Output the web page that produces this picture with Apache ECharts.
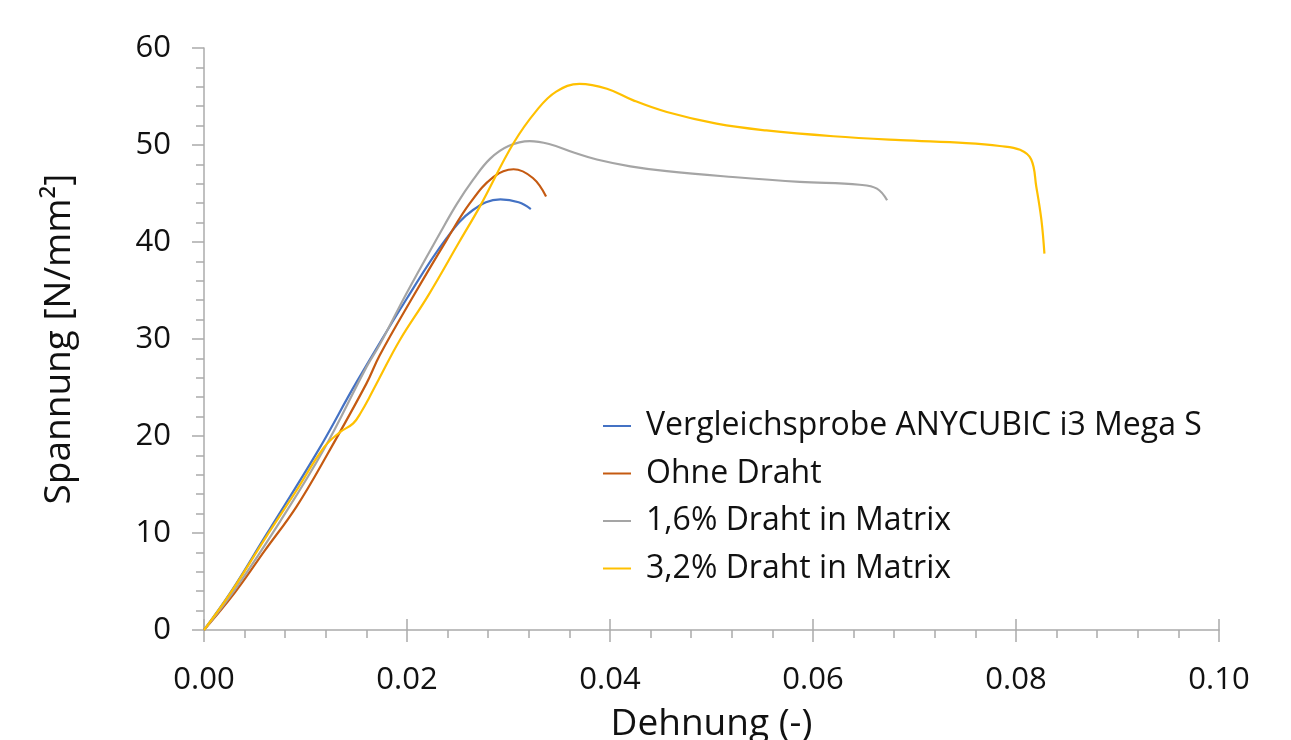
<!DOCTYPE html>
<html>
<head>
<meta charset="utf-8">
<script src="https://cdn.jsdelivr.net/npm/echarts@6/dist/echarts.min.js"></script>
<style>
html, body { margin: 0; padding: 0; background: #fff; }
#chart { width: 1291px; height: 740px; }
</style>
</head>
<body>
<div id="chart"></div>
<script>
// series names (legend)
const seriesNames = [
  'Vergleichsprobe ANYCUBIC i3 Mega S',
  'Ohne Draht',
  '1,6% Draht in Matrix',
  '3,2% Draht in Matrix'
]
// [Dehnung, Spannung]
const vergleich = [
  [0, 0], [0.0027, 4.0], [0.006, 9.6], [0.0113, 18.6], [0.015, 25.5], [0.02, 34.2],
  [0.0239, 40.4], [0.0265, 43.3], [0.0292, 44.4], [0.031, 44.1], [0.0322, 43.4]
]
const ohneDraht = [
  [0, 0], [0.003, 3.8], [0.006, 8.2], [0.0091, 12.7], [0.0122, 18.2], [0.016, 25.4],
  [0.0173, 28.3], [0.0205, 34.2], [0.0239, 40.2], [0.0262, 44.0], [0.0285, 46.7],
  [0.0305, 47.5], [0.0324, 46.6], [0.0337, 44.7]
]
const draht16 = [
  [0, 0], [0.0032, 4.4], [0.0075, 11.2], [0.0118, 18.6], [0.016, 27.1], [0.0173, 29.4],
  [0.02, 34.8], [0.0233, 41.0], [0.0249, 43.9], [0.0265, 46.4], [0.0282, 48.6],
  [0.03, 49.9], [0.0321, 50.4], [0.034, 50.1], [0.0365, 49.2], [0.0387, 48.5], [0.042, 47.8],
  [0.0456, 47.3], [0.0521, 46.7], [0.0587, 46.2], [0.0646, 45.9], [0.0663, 45.5], [0.0673, 44.3]
]
const draht32 = [
  [0, 0], [0.0026, 3.8], [0.006, 9.4], [0.009, 14.2], [0.0118, 18.8], [0.0134, 20.4],
  [0.0147, 21.3], [0.0155, 22.5], [0.0163, 24.0], [0.0172, 25.8], [0.0193, 29.9],
  [0.0221, 34.5], [0.0252, 40.1], [0.0272, 43.7], [0.0305, 50.2], [0.0328, 53.6],
  [0.0347, 55.5], [0.037, 56.3], [0.0397, 55.8], [0.0423, 54.6], [0.0456, 53.4],
  [0.0505, 52.2], [0.0554, 51.5], [0.062, 50.9], [0.0686, 50.5], [0.0751, 50.2],
  [0.0784, 49.9], [0.0804, 49.5], [0.0815, 48.5], [0.082, 45.7], [0.0825, 42.3], [0.0828, 38.8]
]
const seriesData = [vergleich, ohneDraht, draht16, draht32]
const colors = ['#4472C4', '#C55A11', '#A5A5A5', '#FFC000']

const font = '"Open Sans", "DejaVu Sans", sans-serif'
const axisGray = '#ABABAB'
const textColor = '#111'

const chart = echarts.init(document.getElementById('chart'))
chart.setOption({
  animation: false,
  color: colors,
  textStyle: { fontFamily: font },
  grid: { left: 204, right: 72, top: 48, bottom: 110, outerBoundsMode: 'none', containLabel: false },
  legend: {
    orient: 'vertical',
    left: 598,
    top: 402,
    icon: 'rect',
    itemWidth: 28,
    itemHeight: 2,
    itemGap: 9.5,
    textStyle: { fontSize: 32, color: textColor, padding: [0, 0, 0, 10], lineHeight: 38, fontFamily: font },
    data: seriesNames
  },
  xAxis: [
    {
      type: 'value',
      min: 0,
      max: 0.1,
      interval: 0.02,
      name: 'Dehnung (-)',
      nameLocation: 'middle',
      nameGap: 76,
      nameTextStyle: { fontSize: 37, color: textColor, fontFamily: font },
      axisLine: { lineStyle: { color: axisGray, width: 1.5 } },
      axisTick: { show: true, length: 12, lineStyle: { color: axisGray, width: 1.5 } },
      minorTick: { show: true, splitNumber: 5, length: 8, lineStyle: { color: axisGray, width: 1.5 } },
      axisLabel: { fontSize: 31, color: textColor, margin: 35, formatter: v => v.toFixed(2), fontFamily: font },
      splitLine: { show: false }
    },
    {
      type: 'value',
      min: 0,
      max: 0.1,
      interval: 0.02,
      position: 'bottom',
      axisLine: { show: false },
      axisTick: { show: true, inside: true, length: 11, lineStyle: { color: axisGray, width: 1.5 } },
      axisLabel: { show: false },
      splitLine: { show: false }
    }
  ],
  yAxis: {
    type: 'value',
    min: 0,
    max: 60,
    interval: 10,
    name: 'Spannung [N/mm²]',
    nameLocation: 'middle',
    nameGap: 126,
    nameTextStyle: { fontSize: 37, color: textColor, fontFamily: font },
    axisLine: { show: true, lineStyle: { color: axisGray, width: 1.5 } },
    axisTick: { show: true, length: 12, lineStyle: { color: axisGray, width: 1.5 } },
    minorTick: { show: true, splitNumber: 5, length: 8, lineStyle: { color: axisGray, width: 1.5 } },
    axisLabel: { fontSize: 31, color: textColor, margin: 33, fontFamily: font },
    splitLine: { show: false }
  },
  series: seriesData.map((d, i) => ({
    name: seriesNames[i],
    type: 'line',
    data: d,
    smooth: 0.4,
    showSymbol: false,
    lineStyle: { width: 2.2, color: colors[i] }
  }))
})
</script>
</body>
</html>
